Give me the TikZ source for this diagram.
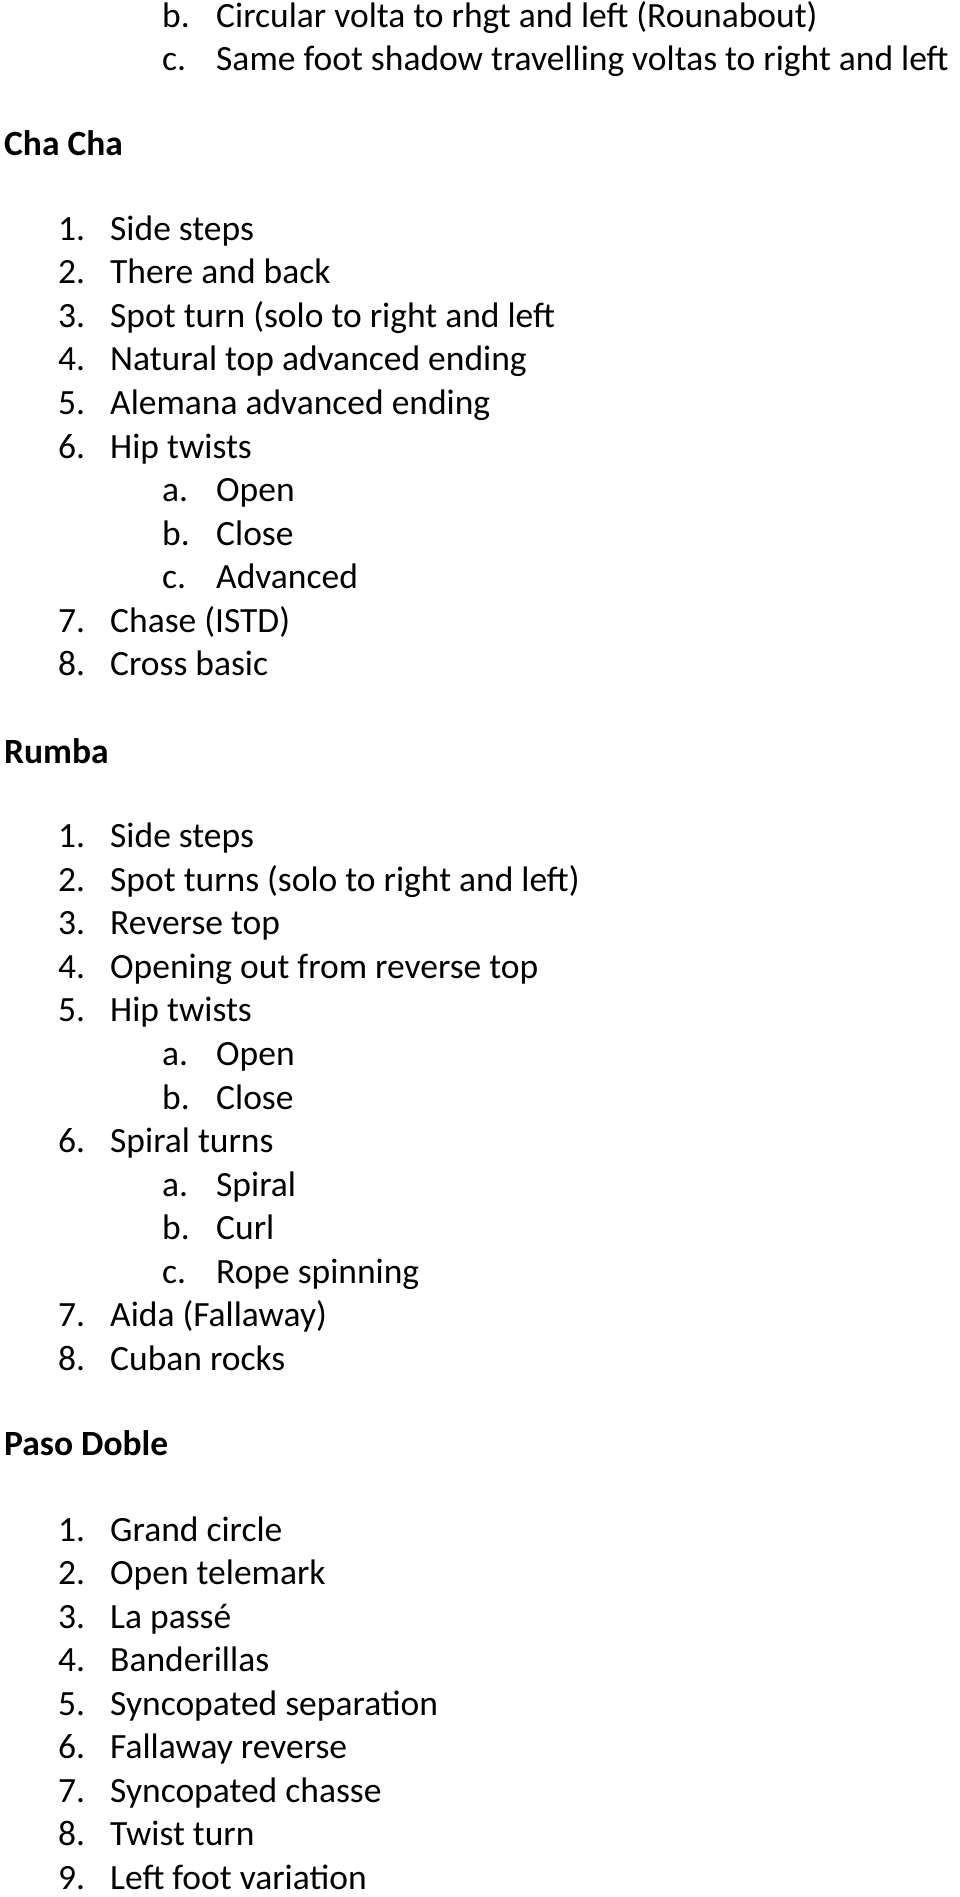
\documentclass[tikz,border=0pt]{standalone}
\usepackage{fontspec}
\setmainfont{Carlito}
\begin{document}
\begin{tikzpicture}[x=1pt,y=-1pt,every node/.style={anchor=mid west,inner sep=0pt,font=\fontsize{35.5}{40}\selectfont}]
\useasboundingbox (0,0) rectangle (960,1897);
\newcommand\myhd[3]{\node[font=\fontsize{35.5}{40}\selectfont\bfseries] (#1) at (4,#2*1.21+8) {#3};}
\newcommand\myit[4]{\node (#1n) at (58,#2*1.21+8) {#3}; \node (#1t) at (110,#2*1.21+8) {#4};}
\newcommand\mysb[4]{\node (#1n) at (162,#2*1.21+8) {#3}; \node (#1t) at (216,#2*1.21+8) {#4};}
\mysb{t1}{14}{b.}{Circular volta to rhgt and left (Rounabout)}
\mysb{t2}{50}{c.}{Same foot shadow travelling voltas to right and left}
\myhd{h1}{120}{Cha Cha}
\myit{c1}{190}{1.}{Side steps}
\myit{c2}{226}{2.}{There and back}
\myit{c3}{262}{3.}{Spot turn (solo to right and left}
\myit{c4}{298}{4.}{Natural top advanced ending}
\myit{c5}{334}{5.}{Alemana advanced ending}
\myit{c6}{370}{6.}{Hip twists}
\mysb{c6a}{406}{a.}{Open}
\mysb{c6b}{442}{b.}{Close}
\mysb{c6c}{478}{c.}{Advanced}
\myit{c7}{514}{7.}{Chase (ISTD)}
\myit{c8}{550}{8.}{Cross basic}
\myhd{h2}{622}{Rumba}
\myit{r1}{692}{1.}{Side steps}
\myit{r2}{728}{2.}{Spot turns (solo to right and left)}
\myit{r3}{764}{3.}{Reverse top}
\myit{r4}{800}{4.}{Opening out from reverse top}
\myit{r5}{836}{5.}{Hip twists}
\mysb{r5a}{872}{a.}{Open}
\mysb{r5b}{908}{b.}{Close}
\myit{r6}{944}{6.}{Spiral turns}
\mysb{r6a}{980}{a.}{Spiral}
\mysb{r6b}{1016}{b.}{Curl}
\mysb{r6c}{1052}{c.}{Rope spinning}
\myit{r7}{1088}{7.}{Aida (Fallaway)}
\myit{r8}{1124}{8.}{Cuban rocks}
\myhd{h3}{1194}{Paso Doble}
\myit{p1}{1265}{1.}{Grand circle}
\myit{p2}{1301}{2.}{Open telemark}
\myit{p3}{1337}{3.}{La passé}
\myit{p4}{1373}{4.}{Banderillas}
\myit{p5}{1409}{5.}{Syncopated separation}
\myit{p6}{1445}{6.}{Fallaway reverse}
\myit{p7}{1481}{7.}{Syncopated chasse}
\myit{p8}{1517}{8.}{Twist turn}
\myit{p9}{1553}{9.}{Left foot variation}
\end{tikzpicture}
\end{document}
